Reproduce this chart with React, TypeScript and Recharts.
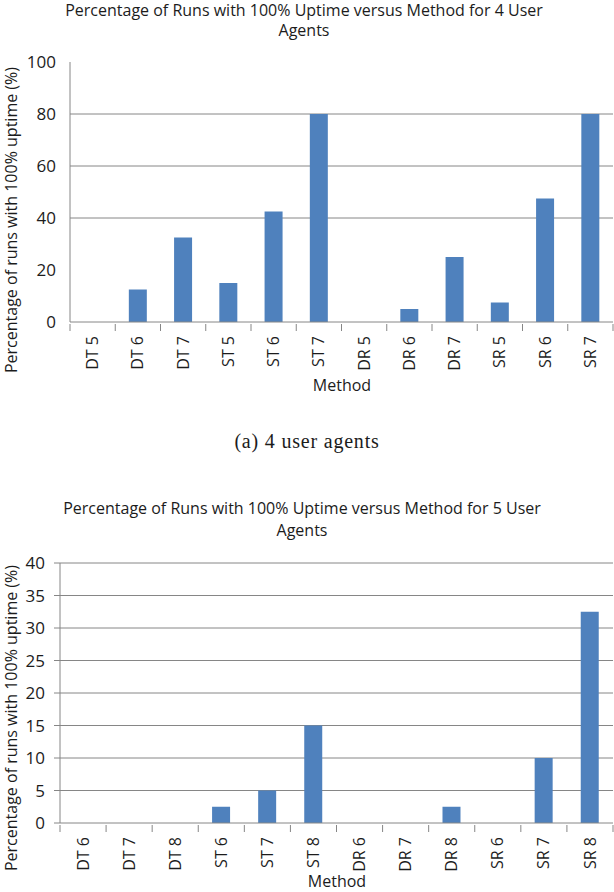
import { Bar, BarChart, CartesianGrid, XAxis, YAxis } from "recharts";

// (a) 4 user agents
const methods4 = ["DT 5", "DT 6", "DT 7", "ST 5", "ST 6", "ST 7", "DR 5", "DR 6", "DR 7", "SR 5", "SR 6", "SR 7"];
const uptime4 = [0, 12.5, 32.5, 15, 42.5, 80, 0, 5, 25, 7.5, 47.5, 80];
const ticks4 = [0, 20, 40, 60, 80, 100];
const grid4 = [40, 60, 80];

// 5 user agents
const methods5 = ["DT 6", "DT 7", "DT 8", "ST 6", "ST 7", "ST 8", "DR 6", "DR 7", "DR 8", "SR 6", "SR 7", "SR 8"];
const uptime5 = [0, 0, 0, 2.5, 5, 15, 0, 0, 2.5, 0, 10, 32.5];
const ticks5 = [0, 5, 10, 15, 20, 25, 30, 35, 40];
const grid5 = [5, 10, 15, 20, 25, 30, 35, 40];

const BAR = "#4F81BD";
const GRAY = "#868686";
const INK = "#1c1c1c";
const FONT = "'Open Sans', sans-serif";

function MethodTick(props: any) {
  const { x, y, payload, index, visibleTicksCount } = props;
  const half = payload?.offset ?? 22.6;
  const last = index === visibleTicksCount - 1;
  return (
    <g>
      <line x1={x - half} y1={y - 6} x2={x - half} y2={y + 1} stroke={GRAY} />
      {last && <line x1={x + half} y1={y - 6} x2={x + half} y2={y + 1} stroke={GRAY} />}
      <text
        transform={`translate(${x},${y + 6}) rotate(-90)`}
        textAnchor="end"
        dy="0.35em"
        fontSize={16}
        fontFamily={FONT}
        fill={INK}
      >
        {payload.value}
      </text>
    </g>
  );
}

function Text({ x, y, children, size = 16, family = FONT, rotate = false, spacing = 0, lh = 1.2 }: any) {
  return (
    <div
      style={{
        position: "absolute",
        left: x,
        top: y,
        transform: `translate(-50%, -50%)${rotate ? " rotate(-90deg)" : ""}`,
        whiteSpace: "nowrap",
        textAlign: "center",
        fontFamily: family,
        fontSize: size,
        letterSpacing: spacing,
        color: INK,
        lineHeight: lh,
      }}
    >
      {children}
    </div>
  );
}

function UptimeChart({
  methods,
  values,
  ticks,
  grid,
  top,
  axisW,
  plotTop,
  tickLine,
  tickMargin,
}: any) {
  const data = methods.map((m: string, i: number) => ({ method: m, pct: values[i] }));
  return (
    <div style={{ position: "absolute", left: 0, top }}>
      <BarChart
        width={614}
        height={plotTop + 260 + 60}
        data={data}
        margin={{ top: plotTop, right: 1, bottom: 0, left: 0 }}
        barCategoryGap="30%"
      >
        <CartesianGrid vertical={false} horizontalValues={grid} stroke={GRAY} strokeWidth={1} />
        <XAxis
          dataKey="method"
          height={60}
          interval={0}
          tickLine={false}
          axisLine={{ stroke: GRAY }}
          tick={<MethodTick />}
        />
        <YAxis
          width={axisW}
          domain={[0, ticks[ticks.length - 1]]}
          ticks={ticks}
          interval={0}
          axisLine={{ stroke: GRAY }}
          tickLine={tickLine ? { stroke: GRAY } : false}
          tickSize={6}
          tickMargin={tickMargin}
          tick={{ fill: INK, fontSize: 17, fontFamily: FONT }}
        />
        <Bar dataKey="pct" fill={BAR} isAnimationActive={false} />
      </BarChart>
    </div>
  );
}

export default function App() {
  return (
    <div style={{ position: "absolute", left: 0, top: 0, width: 614, height: 892, background: "#fff", overflow: "hidden" }}>
      <UptimeChart
        methods={methods4}
        values={uptime4}
        ticks={ticks4}
        grid={grid4}
        top={0}
        axisW={70}
        plotTop={62}
        tickLine={false}
        tickMargin={8}
      />
      <Text x={304} y={20} lh="20px">
        Percentage of Runs with 100% Uptime versus Method for 4 User
        <br />
        Agents
      </Text>
      <Text x={12} y={220} rotate>Percentage of runs with 100% uptime (%)</Text>
      <Text x={342} y={386}>Method</Text>
      <Text x={307} y={441} size={20} spacing={0.8} family="'Liberation Serif', 'Times New Roman', serif">
        (a) 4 user agents
      </Text>

      <UptimeChart
        methods={methods5}
        values={uptime5}
        ticks={ticks5}
        grid={grid5}
        top={480}
        axisW={60}
        plotTop={83}
        tickLine
        tickMargin={9}
      />
      <Text x={302} y={519} lh="22px">
        Percentage of Runs with 100% Uptime versus Method for 5 User
        <br />
        Agents
      </Text>
      <Text x={12} y={718} rotate>Percentage of runs with 100% uptime (%)</Text>
      <Text x={337} y={882}>Method</Text>
    </div>
  );
}
